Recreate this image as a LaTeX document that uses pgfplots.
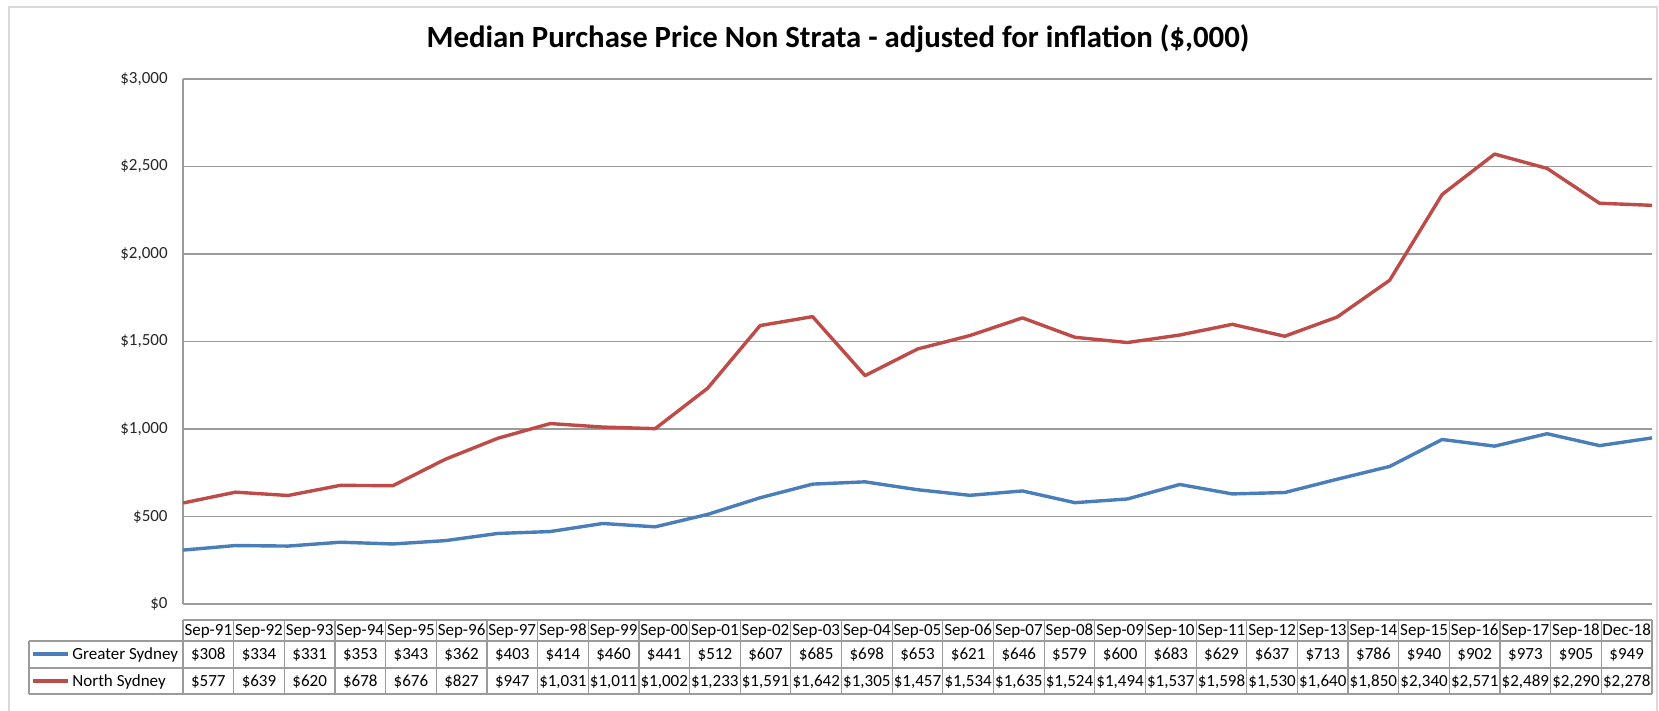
\documentclass[border=0pt]{standalone}
\usepackage{pgfplots}
\pgfplotsset{compat=1.18}
\usepackage{pgfplotstable}
\usepackage{fontspec}
\setmainfont{Carlito}
\definecolor{gsblue}{RGB}{74,126,187}
\definecolor{nsred}{RGB}{190,75,72}
\definecolor{gridc}{RGB}{155,155,155}
\definecolor{framec}{RGB}{217,217,217}
\pgfkeys{/pgf/number format/assume math mode=true}
\newcommand\tabfont{\fontsize{8.5}{10}\selectfont}

\pgfplotstableread{
cat gs ns
Sep-91 308 577
Sep-92 334 639
Sep-93 331 620
Sep-94 353 678
Sep-95 343 676
Sep-96 362 827
Sep-97 403 947
Sep-98 414 1031
Sep-99 460 1011
Sep-00 441 1002
Sep-01 512 1233
Sep-02 607 1591
Sep-03 685 1642
Sep-04 698 1305
Sep-05 653 1457
Sep-06 621 1534
Sep-07 646 1635
Sep-08 579 1524
Sep-09 600 1494
Sep-10 683 1537
Sep-11 629 1598
Sep-12 637 1530
Sep-13 713 1640
Sep-14 786 1850
Sep-15 940 2340
Sep-16 902 2571
Sep-17 973 2489
Sep-18 905 2290
Dec-18 949 2278
}\datatable

\begin{document}
\begin{tikzpicture}
\useasboundingbox (0,0) rectangle (829.5pt,355.5pt);
\draw[framec, line width=0.75pt] (4.5pt,-2pt) -- (4.5pt,352pt) -- (828.5pt,352pt) -- (828.5pt,-2pt);
\node[anchor=base, inner sep=0pt, font=\fontsize{15.4}{18}\selectfont\bfseries] at (419pt,331.5pt)
  {Median Purchase Price Non Strata - adjusted for inflation (\$,000)};

\begin{axis}[
  at={(91.5pt,53.5pt)}, anchor=south west,
  width=734.5pt, height=262.5pt, scale only axis,
  xmin=0, xmax=28, ymin=0, ymax=3000,
  xtick=\empty, ytick={0,500,...,3000},
  scaled y ticks=false,
  ymajorgrids, grid style={gridc, line width=0.6pt},
  major tick length=0pt,
  axis x line*=bottom, axis y line*=left,
  axis line style={gridc, line width=0.6pt, -},
  yticklabel={\$\pgfmathprintnumber{\tick}},
  yticklabel style={anchor=east, inner sep=0pt, xshift=-7.5pt, font=\tabfont, text=black!85},
  clip=false,
]
\addplot[gsblue, line width=1.7pt, line join=round, mark=none] table[x expr=\coordindex, y=gs]{\datatable};
\addplot[nsred, line width=1.7pt, line join=round, mark=none] table[x expr=\coordindex, y=ns]{\datatable};
\end{axis}

\begin{axis}[
  at={(91.5pt,8.5pt)}, anchor=south west,
  width=734.5pt, height=37pt, scale only axis,
  xmin=0, xmax=29, ymin=0, ymax=74,
  hide axis, clip=false,
]
\pgfplotsinvokeforeach{0,...,29}{\draw[gridc, line width=0.6pt] (axis cs:#1,0) -- (axis cs:#1,74);}
\draw[gridc, line width=0.6pt] (axis cs:0,74) -- (axis cs:29,74);
\draw[gridc, line width=0.6pt] (axis cs:-3.04,53) -- (axis cs:29,53);
\draw[gridc, line width=0.6pt] (axis cs:-3.04,26) -- (axis cs:29,26);
\draw[gridc, line width=0.6pt] (axis cs:-3.04,0) -- (axis cs:29,0);
\draw[gridc, line width=0.6pt] (axis cs:-3.04,0) -- (axis cs:-3.04,53);
\addplot[draw=none, mark=none, point meta=explicit symbolic, nodes near coords,
  every node near coord/.append style={anchor=base, inner sep=0pt, font=\tabfont, text=black}]
  table[x expr=\coordindex+0.5, y expr=58, meta=cat]{\datatable};
\addplot[draw=none, mark=none, point meta=explicit,
  nodes near coords={\$\pgfmathprintnumber{\pgfplotspointmeta}},
  every node near coord/.append style={anchor=base, inner sep=0pt, font=\tabfont, text=black}]
  table[x expr=\coordindex+0.5, y expr=34, meta=gs]{\datatable};
\addplot[draw=none, mark=none, point meta=explicit,
  nodes near coords={\$\pgfmathprintnumber{\pgfplotspointmeta}},
  every node near coord/.append style={anchor=base, inner sep=0pt, font=\tabfont, text=black}]
  table[x expr=\coordindex+0.5, y expr=7, meta=ns]{\datatable};
\draw[gsblue, line width=1.7pt] (axis cs:-2.961,40) -- (axis cs:-2.270,40);
\draw[nsred, line width=1.7pt] (axis cs:-2.961,13) -- (axis cs:-2.270,13);
\node[anchor=base west, inner sep=0pt, font=\tabfont] at (axis cs:-2.191,34) {Greater Sydney};
\node[anchor=base west, inner sep=0pt, font=\tabfont] at (axis cs:-2.191,7) {North Sydney};
\end{axis}
\end{tikzpicture}
\end{document}
